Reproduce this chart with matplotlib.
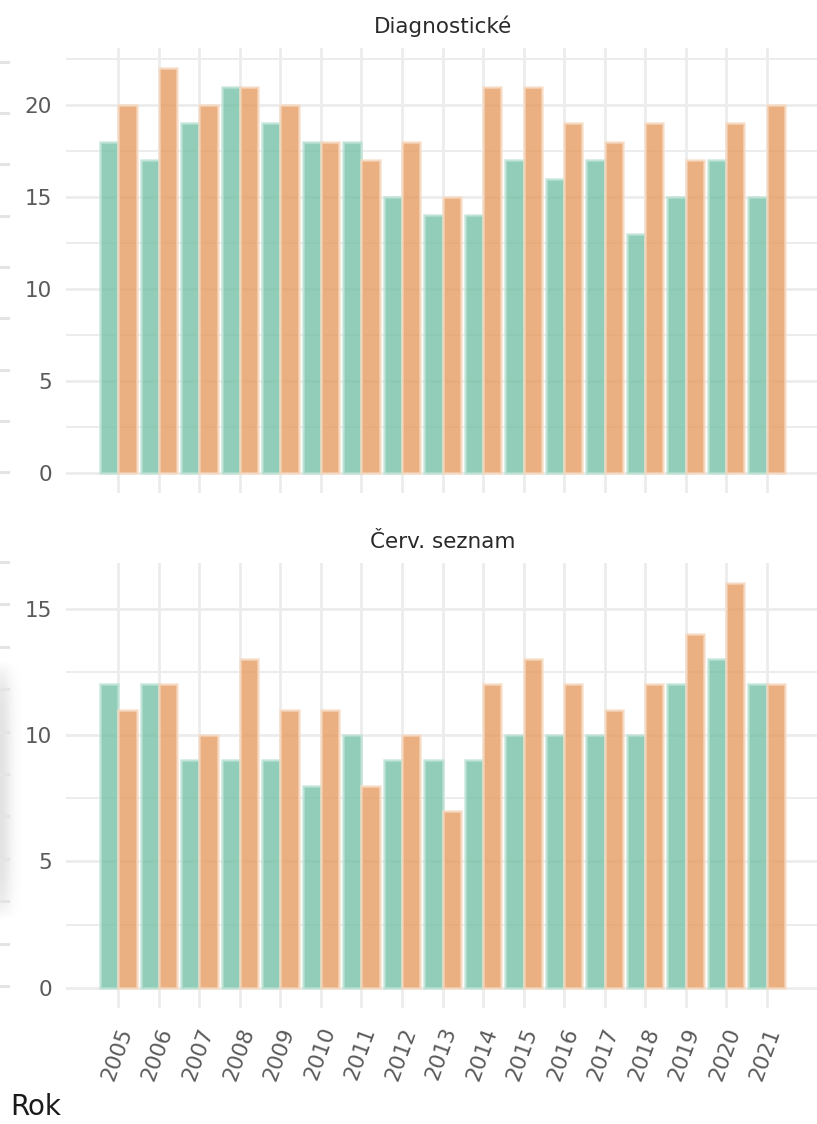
import matplotlib
matplotlib.use('Agg')
import matplotlib.pyplot as plt
import matplotlib.transforms as mtransforms
import numpy as np

# data
roky = list(range(2005, 2022))
diag_zelena = [18, 17, 19, 21, 19, 18, 18, 15, 14, 14, 17, 16, 17, 13, 15, 17, 15]
diag_oranz = [20, 22, 20, 21, 20, 18, 17, 18, 15, 21, 21, 19, 18, 19, 17, 19, 20]
cerv_zelena = [12, 12, 9, 9, 9, 8, 10, 9, 9, 9, 10, 10, 10, 10, 12, 13, 12]
cerv_oranz = [11, 12, 10, 13, 11, 11, 8, 10, 7, 12, 13, 12, 11, 12, 14, 16, 12]

panely = ['Diagnostické', 'Červ. seznam']
y_ticks = [[0, 5, 10, 15, 20], [0, 5, 10, 15]]

zelena = '#72c0a4'
oranz = '#e69a5e'

W, H = 817, 1124
fig = plt.figure(figsize=(W / 100, H / 100), dpi=100)
plt.rcParams['font.family'] = ['DejaVu Sans']


def box(x0, y0, x1, y1):
    # pixel box -> figure fraction
    return [x0 / W, 1 - y1 / H, (x1 - x0) / W, (y1 - y0) / H]


ax1 = fig.add_axes(box(66, 48, 819, 493))
ax2 = fig.add_axes(box(66, 563, 819, 1008))

x = np.array(roky)
sirka = 0.45
data = [(diag_zelena, diag_oranz), (cerv_zelena, cerv_oranz)]

for ax, (zel, ora), nazev, yt in zip([ax1, ax2], data, panely, y_ticks):
    vmax = max(max(zel), max(ora))
    ax.set_xlim(2004.55 - 0.845, 2021.45 + 0.845)
    ax.set_ylim(-0.05 * vmax, 1.05 * vmax)
    for s in ax.spines.values():
        s.set_visible(False)
    ax.set_facecolor('white')

    # grid
    for v in np.arange(0, vmax * 1.05, 2.5):
        ax.axhline(v, color='#ececec', lw=2.0 if v % 5 == 0 else 1.4, zorder=0)
    for r in roky:
        ax.axvline(r, color='#ececec', lw=2.0, zorder=0)

    ax.bar(x - sirka / 2, zel, width=sirka, color=zelena, alpha=0.78,
           edgecolor='#bfe4d6', linewidth=1.8, zorder=2)
    ax.bar(x + sirka / 2, ora, width=sirka, color=oranz, alpha=0.78,
           edgecolor='#f8dcc5', linewidth=1.8, zorder=2)

    ax.set_yticks(yt)
    ax.set_yticklabels([str(v) for v in yt])
    ax.tick_params(axis='y', length=0, pad=10, labelsize=15.5, labelcolor='#5a5a5a')
    ax.set_xticks([])
    ax.set_title(nazev, fontsize=15.5, color='#2a2a2a', pad=11)

# rotated year labels under the bottom panel
off = mtransforms.ScaledTranslation(8 / 100, -20 / 100, fig.dpi_scale_trans)
trans = mtransforms.blended_transform_factory(ax2.transData, ax2.transAxes) + off
for r in roky:
    ax2.text(r, 0, str(r), transform=trans, rotation=70, rotation_mode='anchor',
             ha='right', va='center', fontsize=15.5, color='#5a5a5a', clip_on=False)

fig.text(10 / W, 1 - 1107 / H, 'Rok', fontsize=20, color='#1a1a1a', va='center', ha='left')

# cut-off gridlines of the neighbouring panel on the left edge
for yy in np.linspace(62, 472, 9):
    fig.add_artist(plt.Line2D([0, 8 / W], [1 - yy / H] * 2, color='#e4e4e4', lw=2.2))
for yy in np.linspace(562, 986, 11):
    fig.add_artist(plt.Line2D([0, 8 / W], [1 - yy / H] * 2, color='#e4e4e4', lw=2.2))

# soft grey shadow at the left border of the lower panel
sh = fig.add_axes(box(0, 660, 26, 920))
sh.axis('off')
gx = np.linspace(0, 1, 60)
gy = np.linspace(-1, 1, 160)
X, Y = np.meshgrid(gx, gy)
a = np.exp(-(X / 0.45) ** 2) * np.clip(1 - np.abs(Y) ** 6, 0, 1) * 0.16
img = np.zeros((160, 60, 4))
img[..., :3] = 0.3
img[..., 3] = a
sh.imshow(img, aspect='auto', interpolation='bilinear')

fig.savefig('out.png', dpi=100, facecolor='white')
